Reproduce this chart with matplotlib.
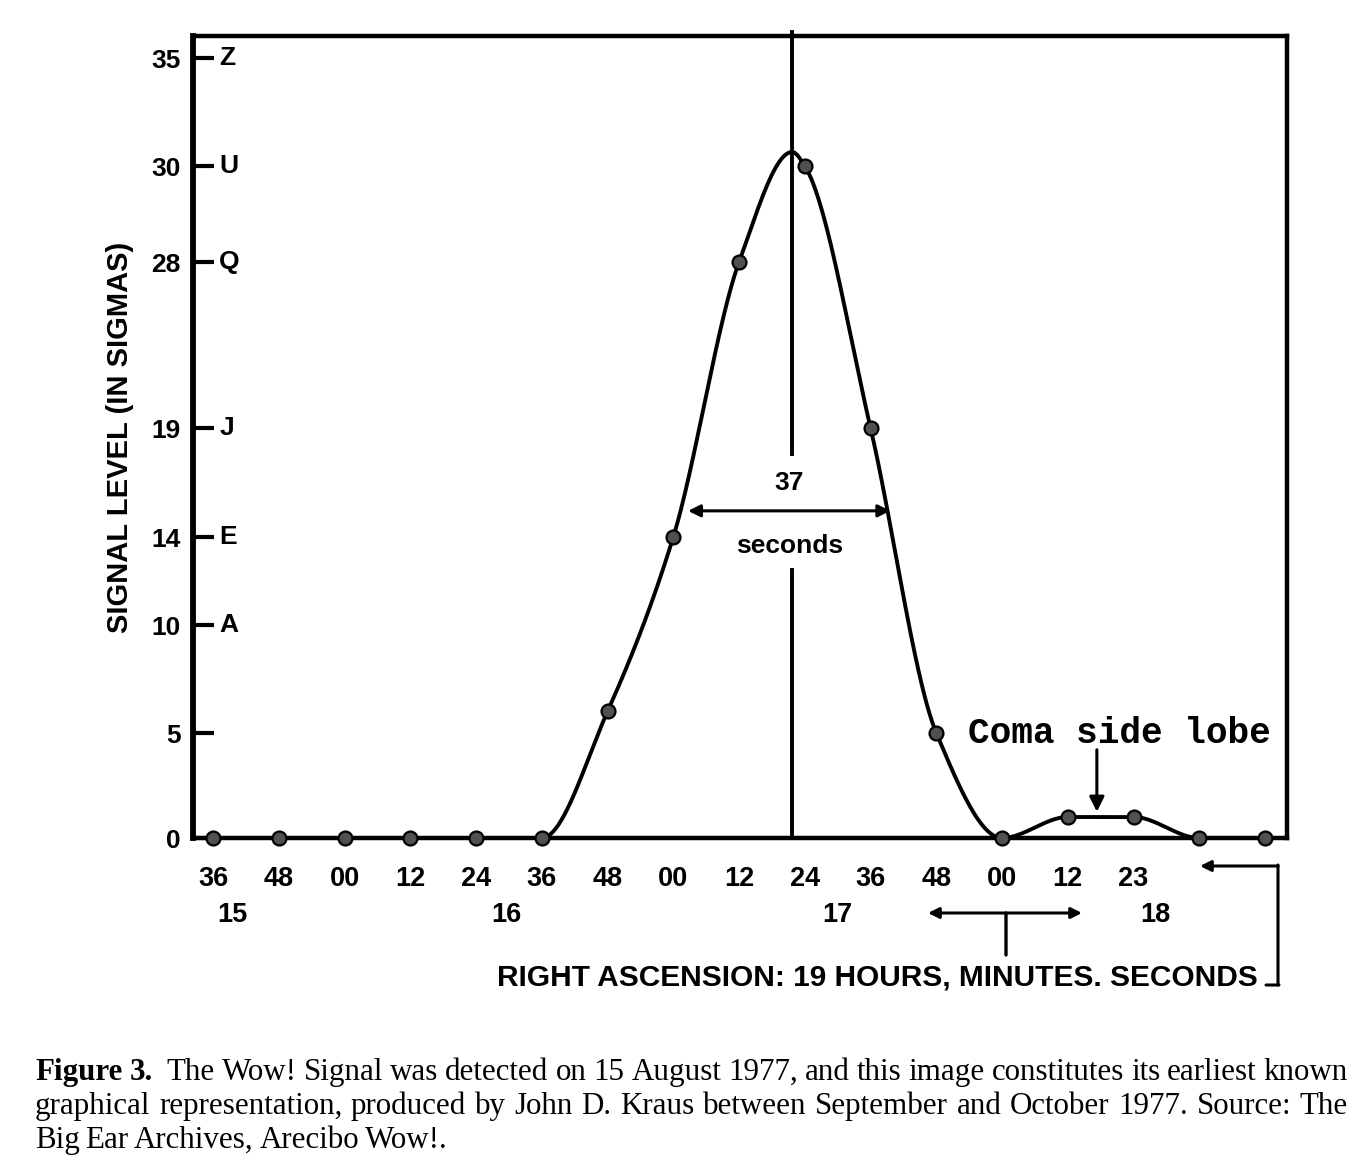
import numpy as np
import matplotlib
matplotlib.use("Agg")
import matplotlib.pyplot as plt
from matplotlib.transforms import blended_transform_factory

# ---------------- data ----------------
ra_seconds = [0, 12, 24, 36, 48, 60, 72, 84, 96, 108, 120, 132, 144, 156, 168, 180, 192]
signal_sigma = [0, 0, 0, 0, 0, 0, 6, 14, 28, 30, 19, 5, 0, 1, 1, 0, 0]

x_tick_seconds = [0, 12, 24, 36, 48, 60, 72, 84, 96, 108, 120, 132, 144, 156, 168]
x_tick_labels = ["36", "48", "00", "12", "24", "36", "48", "00", "12", "24", "36", "48", "00", "12", "23"]
x_inner_ticks = [72, 84, 96, 108, 120, 132]
minute_labels = ["15", "16", "17", "18"]
minute_label_seconds = [3.5, 53.6, 114.0, 172.0]

level_ticks = [0, 5, 10, 14, 19, 28, 30, 35]
level_tick_labels = ["0", "5", "10", "14", "19", "28", "30", "35"]
level_letters = ["", "", "A", "E", "J", "Q", "U", "Z"]

fit_peak_time = 105.7
fit_peak_level = 30.65
fwhm_left, fwhm_right, fwhm_level = 86.7, 123.6, 15.2

caption_lines = [
    [("Figure", "bold"), ("3.", "bold"), ("", "normal"), ("The", "normal"), ("Wow!", "normal"), ("Signal", "normal"),
     ("was", "normal"), ("detected", "normal"), ("on", "normal"), ("15", "normal"), ("August", "normal"),
     ("1977,", "normal"), ("and", "normal"), ("this", "normal"), ("image", "normal"), ("constitutes", "normal"),
     ("its", "normal"), ("earliest", "normal"), ("known", "normal")],
    [(w, "normal") for w in "graphical representation, produced by John D. Kraus between September and October 1977. Source: The".split()],
    [(w, "normal") for w in "Big Ear Archives, Arecibo Wow!.".split()],
]

# -------------- nonlinear axis of the original drawing --------------
SCALE_LEVELS = np.array([-5, 0, 5, 10, 14, 19, 28, 30, 35, 40], dtype=float)
SCALE_HEIGHTS = np.array([-105, 0, 105, 213, 301, 410, 576, 672, 780, 888], dtype=float)


def fwd(v):
    return np.interp(np.asarray(v, dtype=float), SCALE_LEVELS, SCALE_HEIGHTS)


def inv(h):
    return np.interp(np.asarray(h, dtype=float), SCALE_HEIGHTS, SCALE_LEVELS)


def pchip(x, y, xs):
    x = np.asarray(x, float); y = np.asarray(y, float)
    h = np.diff(x); d = np.diff(y) / h
    m = np.zeros_like(y)
    for k in range(1, len(x) - 1):
        if d[k - 1] * d[k] <= 0:
            m[k] = 0.0
        else:
            w1 = 2 * h[k] + h[k - 1]; w2 = h[k] + 2 * h[k - 1]
            m[k] = (w1 + w2) / (w1 / d[k - 1] + w2 / d[k])
    m[0] = 0.0; m[-1] = 0.0
    idx = np.clip(np.searchsorted(x, xs) - 1, 0, len(x) - 2)
    t = (xs - x[idx]) / h[idx]
    h00 = 2 * t**3 - 3 * t**2 + 1; h10 = t**3 - 2 * t**2 + t
    h01 = -2 * t**3 + 3 * t**2; h11 = t**3 - t**2
    return h00 * y[idx] + h10 * h[idx] * m[idx] + h01 * y[idx + 1] + h11 * h[idx] * m[idx + 1]


W, H = 1365, 1173
fig = plt.figure(figsize=(W / 100, H / 100), dpi=100)
fig.patch.set_facecolor("white")
ax = fig.add_axes([193 / W, (H - 838) / H, 1094 / W, 802 / H])
ax.set_yscale("function", functions=(fwd, inv))
ax.set_xlim(-3.65, 196.0)
ax.set_ylim(0, 36.02)

for s in ax.spines.values():
    s.set_linewidth(3.2)
    s.set_color("black")
ax.spines["left"].set_linewidth(4.2)

# smooth curve through the readings (plus the fitted peak)
kx = list(ra_seconds[:9]) + [fit_peak_time] + list(ra_seconds[9:])
ky = list(signal_sigma[:9]) + [fit_peak_level] + list(signal_sigma[9:])
xs = np.linspace(ra_seconds[0], ra_seconds[-1], 2000)
hs = pchip(kx, fwd(ky), xs)
ax.plot(xs, inv(hs), color="black", lw=2.8, solid_capstyle="round", zorder=3, clip_on=False)
ax.plot(ra_seconds, signal_sigma, linestyle="none", marker="o", markersize=10,
        markerfacecolor="#505050", markeredgecolor="black", markeredgewidth=1.6, zorder=4, clip_on=False)

# axis ticks
sans = ["Liberation Sans", "DejaVu Sans"]
ax.set_yticks(level_ticks)
ax.set_yticklabels(level_tick_labels, fontfamily=sans, fontweight="bold", fontsize=19)
ax.yaxis.set_minor_locator(matplotlib.ticker.NullLocator())
ax.tick_params(axis="y", which="major", direction="in", length=15, width=3, pad=9, left=True, right=False)

ax.set_xticks(x_tick_seconds)
ax.set_xticklabels(x_tick_labels, fontfamily=sans, fontweight="bold", fontsize=19.5)
ax.set_xticks(x_inner_ticks, minor=True)
ax.tick_params(axis="x", which="major", length=0, pad=20)
ax.tick_params(axis="x", which="minor", direction="in", length=15, width=3)

ytr = blended_transform_factory(ax.transAxes, ax.transData)
for lv, letter in zip(level_ticks, level_letters):
    if letter:
        ax.text(0.024, lv, letter, transform=ytr, ha="left", va="center",
                fontfamily=sans, fontweight="bold", fontsize=19)

xtr = blended_transform_factory(ax.transData, fig.transFigure)
for lab, sx in zip(minute_labels, minute_label_seconds):
    ax.text(sx, (H - 915) / H, lab, transform=xtr, ha="center", va="center",
            fontfamily=sans, fontweight="bold", fontsize=19.5)

# peak marker line and FWHM annotation
ax.plot([fit_peak_time, fit_peak_time], [0, 12.5], color="black", lw=2.8, clip_on=False, zorder=2)
ax.plot([fit_peak_time, fit_peak_time], [17.8, 36.2], color="black", lw=2.8, clip_on=False, zorder=2)
ax.annotate("", xy=(fwhm_left, fwhm_level), xytext=(fwhm_right, fwhm_level),
            arrowprops=dict(arrowstyle="<|-|>", lw=2.2, color="black", mutation_scale=18, shrinkA=0, shrinkB=0))
ax.text((fwhm_left + fwhm_right) / 2, 16.5, "37", ha="center", va="center",
        fontfamily=sans, fontweight="bold", fontsize=19)
ax.text((fwhm_left + fwhm_right) / 2, 13.6, "seconds", ha="center", va="center",
        fontfamily=sans, fontweight="bold", fontsize=19)

# coma side lobe
ax.text(165.4, 5.0, "Coma side lobe", ha="center", va="center",
        fontfamily=["Liberation Mono", "DejaVu Sans Mono"], fontweight="bold", fontsize=26)
ax.annotate("", xy=(161.3, 1.25), xytext=(161.3, 4.2),
            arrowprops=dict(arrowstyle="-|>", lw=2.2, color="black", mutation_scale=22, shrinkA=0, shrinkB=0))

# y label
fig.text(120 / W, (H - 437) / H, "SIGNAL LEVEL (IN SIGMAS)", rotation=90, ha="center", va="center",
         fontfamily=sans, fontweight="bold", fontsize=21)

# lower annotations (figure pixel coordinates)
def fp(x, y):
    return (x, H - y)

ax.annotate("", xy=fp(928, 913), xytext=fp(1082, 913), xycoords="figure pixels", textcoords="figure pixels",
            arrowprops=dict(arrowstyle="<|-|>", lw=2.2, color="black", mutation_scale=16, shrinkA=0, shrinkB=0))
ax.annotate("", xy=fp(1006, 913), xytext=fp(1006, 955), xycoords="figure pixels", textcoords="figure pixels",
            arrowprops=dict(arrowstyle="-", lw=2.4, color="black", shrinkA=0, shrinkB=0))
ax.annotate("", xy=fp(1200, 866), xytext=fp(1278, 866), xycoords="figure pixels", textcoords="figure pixels",
            arrowprops=dict(arrowstyle="-|>", lw=2.2, color="black", mutation_scale=16, shrinkA=0, shrinkB=0))
ax.annotate("", xy=fp(1278, 865), xytext=fp(1278, 985), xycoords="figure pixels", textcoords="figure pixels",
            arrowprops=dict(arrowstyle="-", lw=2.2, color="black", shrinkA=0, shrinkB=0))
ax.annotate("", xy=fp(1279, 985), xytext=fp(1266, 985), xycoords="figure pixels", textcoords="figure pixels",
            arrowprops=dict(arrowstyle="-", lw=2.2, color="black", shrinkA=0, shrinkB=0))
fig.text(877 / W, (H - 977) / H, "RIGHT ASCENSION: 19 HOURS, MINUTES. SECONDS", ha="center", va="center",
         fontfamily=sans, fontweight="bold", fontsize=21.5)

# caption, justified
serif = ["Liberation Serif", "DejaVu Serif"]
renderer = fig.canvas.get_renderer()
line_left, line_right = 35, 1348
baselines = [1080, 1114, 1148]
for li, (words, base) in enumerate(zip(caption_lines, baselines)):
    objs = []
    for w, wt in words:
        t = fig.text(0, (H - base) / H, w, ha="left", va="baseline", fontfamily=serif,
                     fontweight=wt, fontsize=22.3, transform=fig.transFigure)
        objs.append(t)
    widths = [o.get_window_extent(renderer).width if o.get_text() else 0.0 for o in objs]
    n_gaps = len(objs) - 1
    if li < len(caption_lines) - 1:
        gap = (line_right - line_left - sum(widths)) / n_gaps
    else:
        gap = 5.6
    x = line_left
    for o, wd in zip(objs, widths):
        o.set_x(x / W)
        x += wd + gap

fig.savefig("out.png", dpi=100, facecolor="white")
